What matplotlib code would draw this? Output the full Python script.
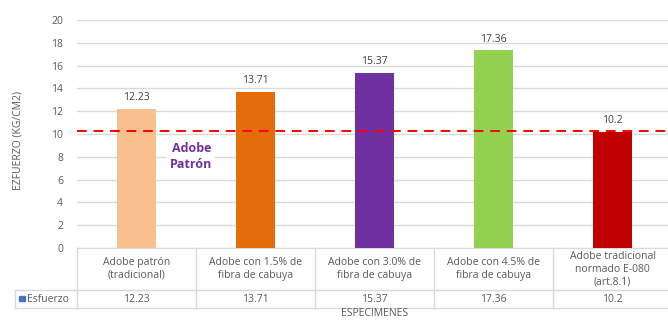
import matplotlib.pyplot as plt
from matplotlib.transforms import blended_transform_factory
from matplotlib.patches import Rectangle

# data
categories = [
    "Adobe patrón\n(tradicional)",
    "Adobe con 1.5% de\nfibra de cabuya",
    "Adobe con 3.0% de\nfibra de cabuya",
    "Adobe con 4.5% de\nfibra de cabuya",
    "Adobe tradicional\nnormado E-080\n(art.8.1)",
]
esfuerzo = [12.23, 13.71, 15.37, 17.36, 10.2]
value_labels = ["12.23", "13.71", "15.37", "17.36", "10.2"]
bar_colors = ["#F9BF8F", "#E46C0A", "#7030A0", "#92D050", "#C00000"]
patron_line = 10.3
y_ticks = [0, 2, 4, 6, 8, 10, 12, 14, 16, 18, 20]

W, H = 668, 320
fig = plt.figure(figsize=(W / 100, H / 100), dpi=100)
plt.rcParams["font.family"] = ["Open Sans", "DejaVu Sans"]

left, right, top, bottom = 77, 672, 20, 248
ax = fig.add_axes([left / W, 1 - bottom / H, (right - left) / W, (bottom - top) / H])

txt = "#595959"
grid = "#D9D9D9"

x = list(range(len(esfuerzo)))
ax.bar(x, esfuerzo, width=0.32, color=bar_colors, zorder=3)
for xi, v, lab in zip(x, esfuerzo, value_labels):
    ax.annotate(lab, (xi, v), xytext=(0, 4), textcoords="offset points",
                ha="center", va="bottom", fontsize=7.5, color="#404040", zorder=4)

ax.axhline(patron_line, color="#FF0000", linestyle=(0, (5, 3.5)), linewidth=1.4, zorder=5)
ax.text(0.46, 8.0, "Adobe\nPatrón", color="#7030A0", fontsize=9, fontweight="bold",
        ha="center", va="center", linespacing=1.3, zorder=4,
        bbox=dict(facecolor="white", edgecolor="none", pad=2))

ax.set_xlim(-0.5, len(esfuerzo) - 0.5)
ax.set_ylim(0, 20)
ax.set_yticks(y_ticks)
ax.set_yticklabels([str(t) for t in y_ticks], fontsize=7.5, color=txt)
ax.set_xticks([])
ax.tick_params(axis="y", length=0, pad=10)
ax.grid(axis="y", color=grid, linewidth=1, zorder=0)
for s in ["left", "right", "top"]:
    ax.spines[s].set_visible(False)
ax.spines["bottom"].set_color(grid)

ax.set_ylabel("EZFUERZO (KG/CM2)", fontsize=7.5, color=txt)
ax.yaxis.set_label_coords((24 - left) / (right - left), 1 - (141 - top) / (bottom - top))

# data table under the axis
ah = bottom - top
y_row1 = -(290 - bottom) / ah
y_row2 = -(308 - bottom) / ah
trans = blended_transform_factory(ax.transData, ax.transAxes)
n = len(esfuerzo)
lk = dict(color=grid, linewidth=1, clip_on=False, transform=trans)
for i in range(n + 1):
    ax.plot([i - 0.5, i - 0.5], [0, y_row2], **lk)
ax.plot([-0.5, n - 0.5], [y_row1, y_row1], **lk)
ax.plot([-0.5, n - 0.5], [y_row2, y_row2], **lk)

# legend cell on the left of the value row
fx0 = 15 / W
fy1 = 1 - 290 / H
fy2 = 1 - 308 / H
fig.add_artist(plt.Line2D([fx0, left / W], [fy1, fy1], color=grid, linewidth=1))
fig.add_artist(plt.Line2D([fx0, left / W], [fy2, fy2], color=grid, linewidth=1))
fig.add_artist(plt.Line2D([fx0, fx0], [fy1, fy2], color=grid, linewidth=1))
fig.add_artist(Rectangle((19 / W, 1 - 301 / H), 6 / W, 5 / H, color="#4472C4",
                         transform=fig.transFigure))
fig.text(27 / W, (fy1 + fy2) / 2, "Esfuerzo", fontsize=7.5, color=txt, va="center")

for i, (cat, lab) in enumerate(zip(categories, value_labels)):
    ax.text(i, y_row1 / 2, cat, transform=trans, ha="center", va="center",
            fontsize=7.5, color=txt, linespacing=1.2)
    ax.text(i, (y_row1 + y_row2) / 2, lab, transform=trans, ha="center", va="center",
            fontsize=7.5, color=txt)

fig.text((left + right) / 2 / W, 1 - 314 / H, "ESPECIMENES", fontsize=7.5, color=txt,
         ha="center", va="center")

fig.savefig("out.png", dpi=100)
